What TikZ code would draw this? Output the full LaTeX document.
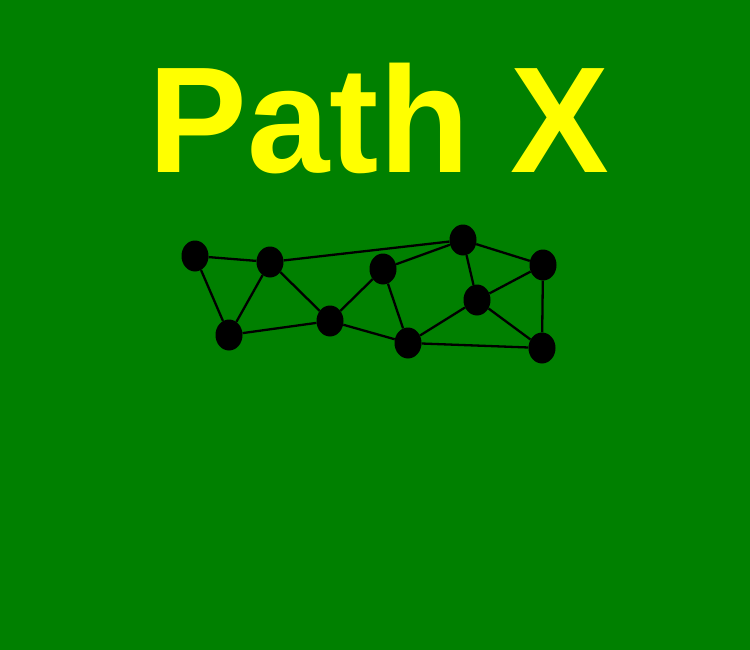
\documentclass[tikz,border=0pt]{standalone}
\usepackage{fontspec}
\setmainfont{Liberation Sans}
\usetikzlibrary{shapes.geometric}
\definecolor{bggreen}{HTML}{008000}
\definecolor{titleyellow}{HTML}{FFFF00}
\begin{document}
\begin{tikzpicture}[x=1pt,y=-1pt,
  vert/.style={ellipse,fill=black,minimum width=27pt,minimum height=31pt,inner sep=0pt},
  edge/.style={line width=2.3pt,black}]
\useasboundingbox (0,0) rectangle (750,650);
\fill[bggreen] (0,0) rectangle (750,650);
\node[anchor=base,text=titleyellow,font=\fontsize{151}{151}\selectfont\bfseries,inner sep=0pt] (title) at (379,172) {\scalebox{0.98}[1]{Path X}};
\node[vert] (a) at (195,256) {};
\node[vert] (b) at (270,262) {};
\node[vert] (c) at (229,335) {};
\node[vert] (d) at (330,321) {};
\node[vert] (e) at (383,269) {};
\node[vert] (f) at (463,240) {};
\node[vert] (g) at (543,265) {};
\node[vert] (h) at (477,300) {};
\node[vert] (i) at (408,343) {};
\node[vert] (j) at (542,348) {};
\foreach \u/\v in {a/b,a/c,b/c,b/f,b/d,c/d,d/e,e/f,e/i,d/i,f/g,f/h,g/h,g/j,h/i,h/j,i/j}
  \draw[edge] (\u) -- (\v);
\end{tikzpicture}
\end{document}
